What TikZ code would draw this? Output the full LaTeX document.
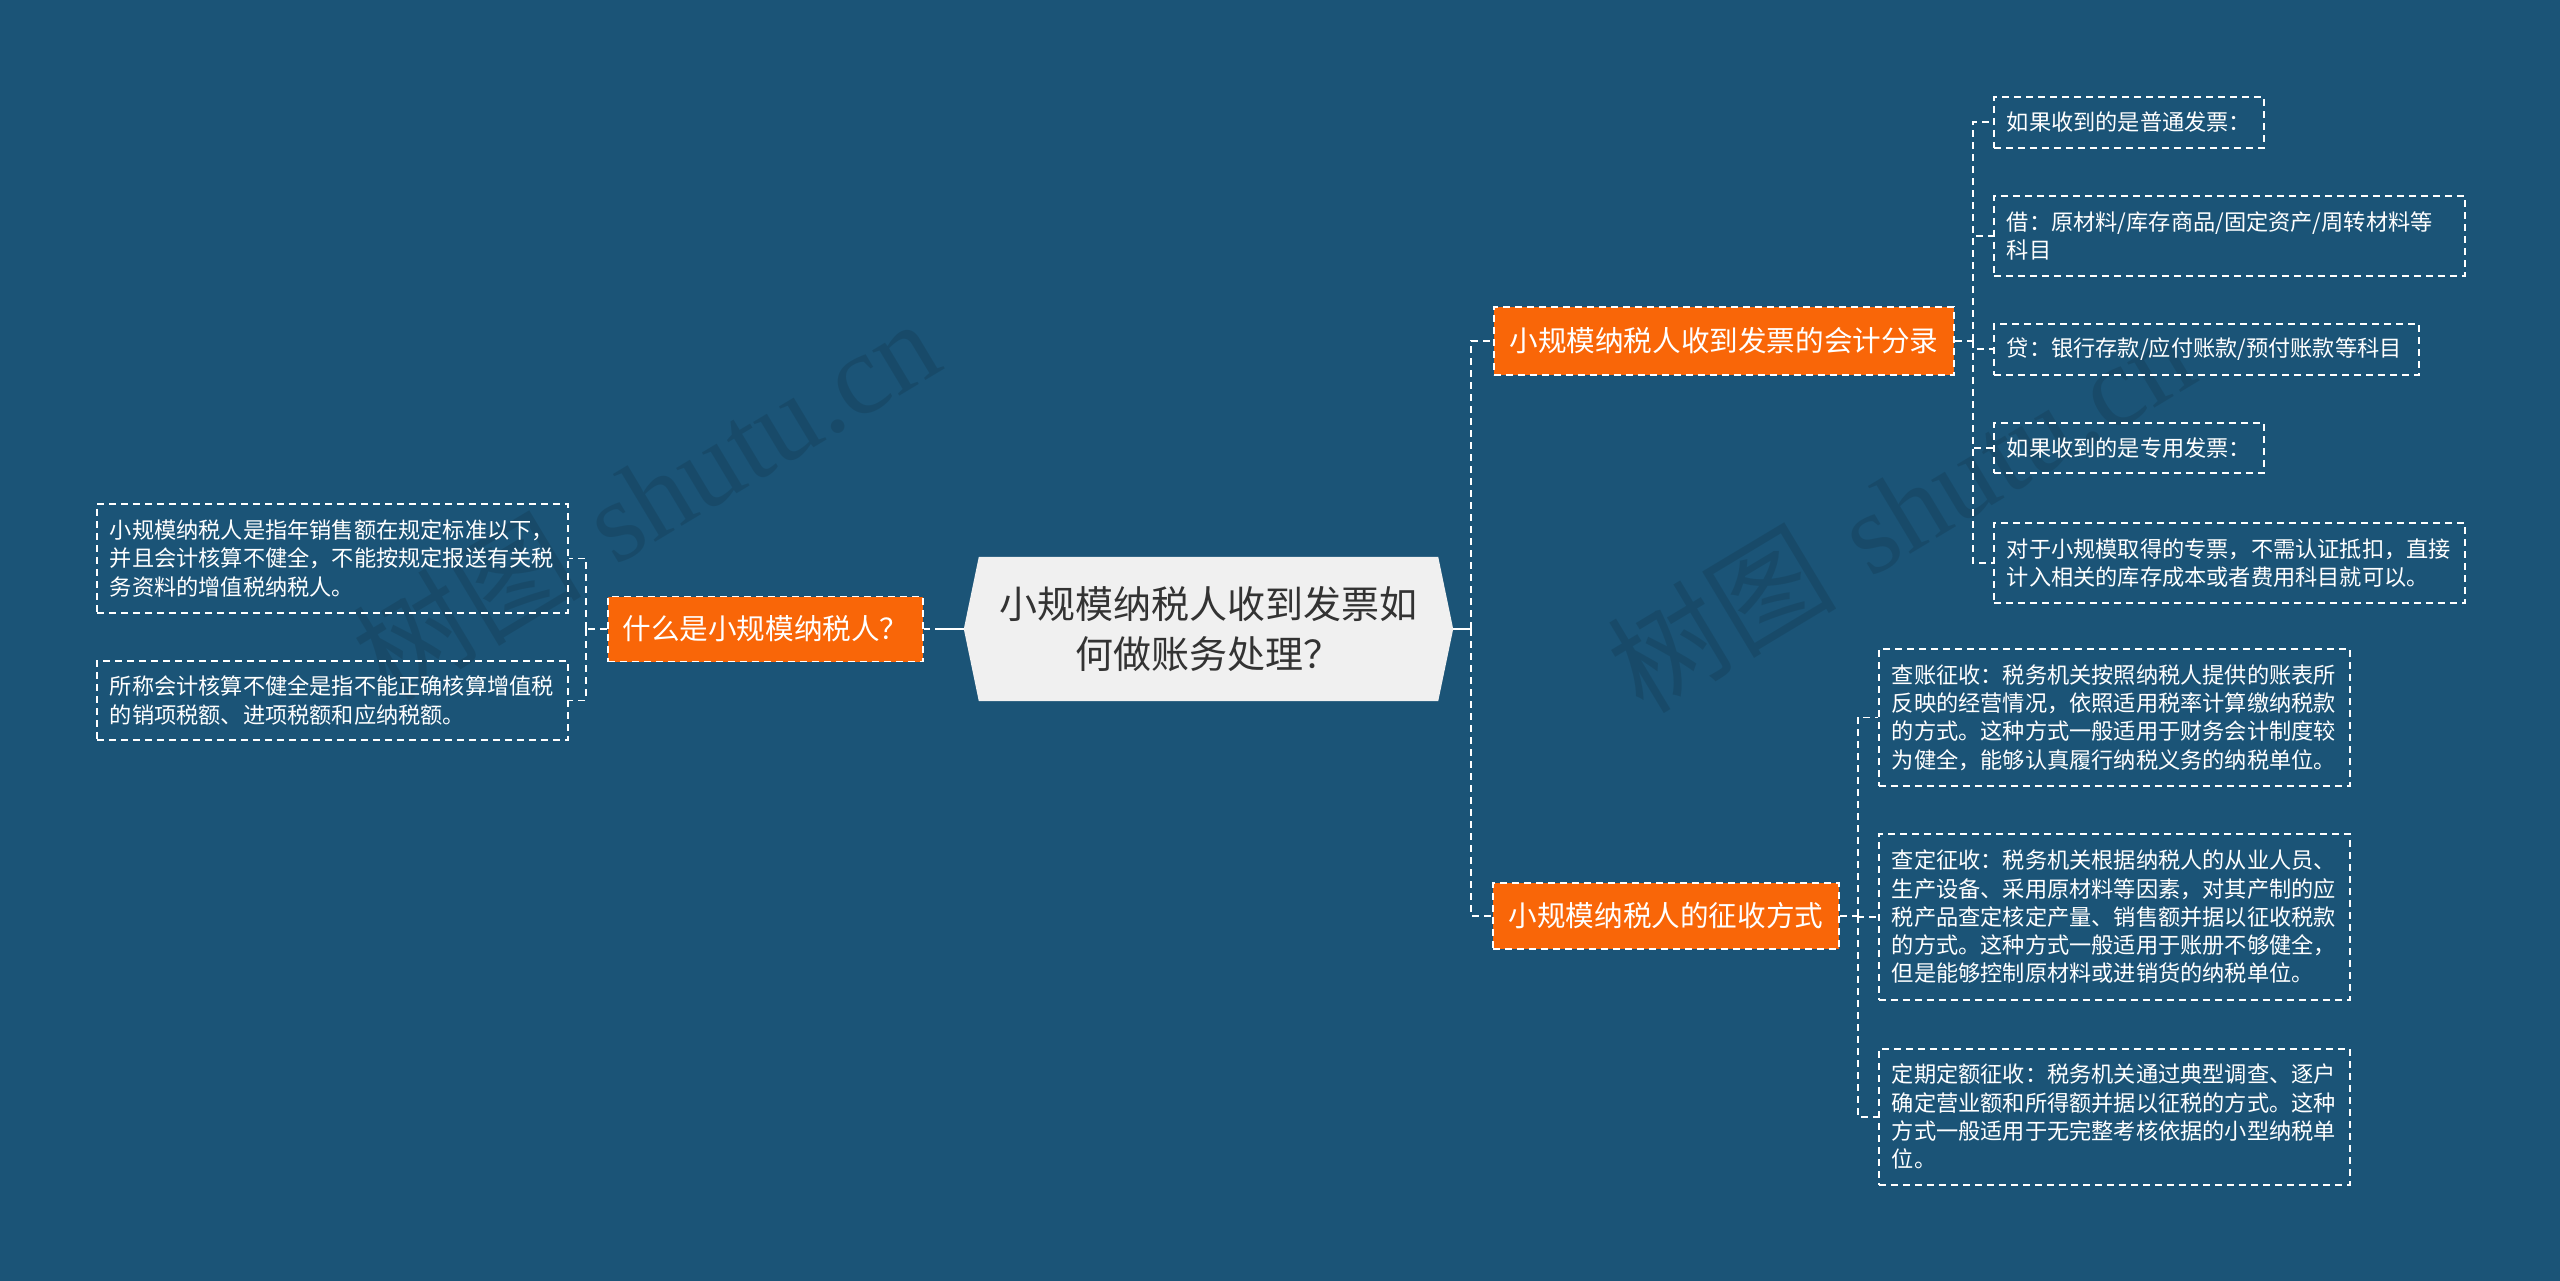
\documentclass[tikz,border=0pt]{standalone}
\usepackage{fontspec}
\newfontfamily\cjk{Noto Sans CJK SC}
\newfontfamily\wmserif{Liberation Serif}
\usetikzlibrary{backgrounds}
\definecolor{bgblue}{RGB}{27,84,119}
\definecolor{orng}{RGB}{249,102,8}
\definecolor{rootfill}{RGB}{240,240,240}
\definecolor{roottext}{RGB}{51,51,51}
\begin{document}
\begin{tikzpicture}[x=1pt,y=-1pt,
  leaf/.style={draw=white, line width=1.8pt, dash pattern=on 7pt off 5pt, text=white,
    font=\cjk\fontsize{22.2}{28.3}\selectfont, inner xsep=13pt, inner ysep=5pt,
    align=left, anchor=north west, text width=#1},
  branch/.style={fill=orng, draw=white, line width=1.8pt, dash pattern=on 7pt off 5pt,
    text=white, font=\cjk\fontsize{28.6}{34}\selectfont, inner sep=0pt, anchor=west},
  dline/.style={draw=white, line width=1.8pt, dash pattern=on 7pt off 5pt},
  mline/.style={draw=white, line width=2.6pt},
  wm/.style={text=black, opacity=0.11, font=\fontsize{115}{120}\selectfont}
]
\useasboundingbox (0,0) rectangle (2560,1281);

% root
\node[font=\cjk\fontsize{38}{50}\selectfont, text=roottext, align=center,
  minimum width=459pt, minimum height=144pt, inner sep=0pt] (root) at (1208.5,629)
  {小规模纳税人收到发票如\\何做账务处理？};
\begin{scope}[on background layer]
  \fill[bgblue] (0,0) rectangle (2560,1281);
  \fill[rootfill] (root.north west) -- ([xshift=-15pt]root.west) -- (root.south west)
    -- (root.south east) -- ([xshift=15pt]root.east) -- (root.north east) -- cycle;
\end{scope}

% watermarks
\node[wm, rotate=31] (wm1) at (645,498) {{\cjk 树图} {\wmserif shutu.cn}};
\node[wm, rotate=31] (wm2) at (1900,510) {{\cjk 树图} {\wmserif shutu.cn}};

% branches
\node[branch, minimum width=315pt, minimum height=65pt] (L) at (607,629) {什么是小规模纳税人？};
\node[branch, minimum width=460pt, minimum height=68pt] (R1) at (1493,341) {小规模纳税人收到发票的会计分录};
\node[branch, minimum width=346pt, minimum height=66pt] (R2) at (1492,916) {小规模纳税人的征收方式};

% left leaves
\node[leaf=445pt, minimum height=109pt] (L1) at (96,503)
  {小规模纳税人是指年销售额在规定标准以下，\\并且会计核算不健全，不能按规定报送有关税\\务资料的增值税纳税人。};
\node[leaf=445pt, minimum height=79pt] (L2) at (96,660)
  {所称会计核算不健全是指不能正确核算增值税\\的销项税额、进项税额和应纳税额。};

% R1 leaves
\node[leaf=244pt, minimum height=51pt] (ra) at (1993,96) {如果收到的是普通发票：};
\node[leaf=445pt, minimum height=80pt] (rb) at (1993,195) {借：原材料/库存商品/固定资产/周转材料等\\科目};
\node[leaf=399pt, minimum height=51pt] (rc) at (1993,323) {贷：银行存款/应付账款/预付账款等科目};
\node[leaf=244pt, minimum height=50pt] (rd) at (1993,422) {如果收到的是专用发票：};
\node[leaf=445pt, minimum height=80pt] (re) at (1993,522) {对于小规模取得的专票，不需认证抵扣，直接\\计入相关的库存成本或者费用科目就可以。};

% R2 leaves
\node[leaf=445pt, minimum height=137pt] (sa) at (1878,648)
  {查账征收：税务机关按照纳税人提供的账表所\\反映的经营情况，依照适用税率计算缴纳税款\\的方式。这种方式一般适用于财务会计制度较\\为健全，能够认真履行纳税义务的纳税单位。};
\node[leaf=445pt, minimum height=166pt] (sb) at (1878,833)
  {查定征收：税务机关根据纳税人的从业人员、\\生产设备、采用原材料等因素，对其产制的应\\税产品查定核定产量、销售额并据以征收税款\\的方式。这种方式一般适用于账册不够健全，\\但是能够控制原材料或进销货的纳税单位。};
\node[leaf=445pt, minimum height=136pt] (sc) at (1878,1048)
  {定期定额征收：税务机关通过典型调查、逐户\\确定营业额和所得额并据以征税的方式。这种\\方式一般适用于无完整考核依据的小型纳税单\\位。};

% junction coordinates
\coordinate (rootL) at ([xshift=-15pt]root.west);
\coordinate (rootR) at ([xshift=15pt]root.east);
\coordinate (lj) at (586,629);
\coordinate (rj) at (1471,629);
\coordinate (rc1) at (1973,341);
\coordinate (rc2) at (1858,916);

% connectors
\draw[mline, dash pattern=on 29pt off 5pt on 20pt] (rootL) -- (L.east);
\draw[mline] (rootR) -- (rj);
\draw[dline] (L.west) -- (lj);
\draw[dline] (lj) |- (L1.east);
\draw[dline] (lj) |- (L2.east);
\draw[dline] (rj) |- (R1.west);
\draw[dline] (rj) |- (R2.west);
\draw[dline] (R1.east) -- (rc1);
\foreach \n in {ra,rb,rc,rd,re} \draw[dline] (rc1) |- (\n.west);
\draw[dline] (R2.east) -- (rc2);
\foreach \n in {sa,sb,sc} \draw[dline] (rc2) |- (\n.west);
\end{tikzpicture}
\end{document}
